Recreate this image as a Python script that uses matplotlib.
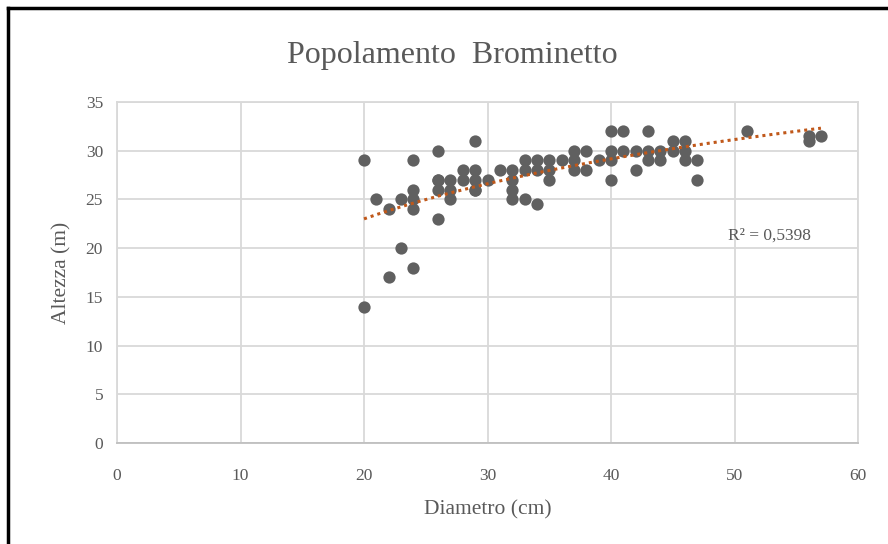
import numpy as np
import matplotlib
matplotlib.use('Agg')
import matplotlib.pyplot as plt
from matplotlib.lines import Line2D

# Diametro (cm) / Altezza (m)
diametro = [20, 20, 21, 22, 22, 23, 23, 24, 24, 24, 24, 24,
            26, 26, 26, 26, 26, 27, 27, 27, 28, 28, 29, 29, 29, 29, 29,
            30, 31, 32, 32, 32, 32, 33, 33, 33, 34, 34, 34,
            35, 35, 35, 36, 37, 37, 37, 38, 38, 39,
            40, 40, 40, 40, 41, 41, 42, 42, 43, 43, 43,
            44, 44, 45, 45, 46, 46, 46, 47, 47, 51, 56, 56, 57]
altezza = [29, 14, 25, 24, 17, 25, 20, 29, 26, 25, 24, 18,
           30, 27, 26, 23, 27, 27, 26, 25, 28, 27, 31, 28, 27, 26, 26,
           27, 28, 28, 27, 26, 25, 29, 28, 25, 29, 28, 24.5,
           29, 28, 27, 29, 30, 29, 28, 30, 28, 29,
           32, 30, 29, 27, 32, 30, 30, 28, 32, 30, 29,
           30, 29, 31, 30, 31, 30, 29, 29, 27, 32, 31, 31.5, 31.5]

title = 'Popolamento  Brominetto'
r2_label = 'R² = 0,5398'

grey_txt = '#595959'
grid_col = '#d9d9d9'
plt.rcParams['font.family'] = ['Liberation Serif', 'DejaVu Serif']

fig = plt.figure(figsize=(8.88, 5.44), dpi=100)
ax = fig.add_axes([117/888, 1-443/544, (858-117)/888, (443-102)/544])

ax.scatter(diametro, altezza, s=78, color='#606060', zorder=3, linewidths=0)

# logarithmic trend line (Excel style)
x = np.array(diametro, dtype=float)
y = np.array(altezza, dtype=float)
a, b = np.polyfit(np.log(x), y, 1)
xt = np.linspace(x.min(), x.max(), 200)
ax.plot(xt, a*np.log(xt) + b, color='#c0581a', lw=2.2, ls=(0, (1, 1.3)), zorder=4)

ax.text(49.5, 21.3, r2_label, fontsize=12.5, color=grey_txt, va='center', ha='left')

ax.set_xlim(0, 60)
ax.set_ylim(0, 35)
ax.set_xticks(range(0, 61, 10))
ax.set_yticks(range(0, 36, 5))
ax.grid(True, color=grid_col, lw=1.3)
ax.set_axisbelow(True)
for side in ['top', 'right', 'left']:
    ax.spines[side].set_color(grid_col)
    ax.spines[side].set_linewidth(1.3)
ax.spines['bottom'].set_color('#bfbfbf')
ax.spines['bottom'].set_linewidth(1.3)
ax.tick_params(length=0, labelsize=12.5, labelcolor=grey_txt)
ax.tick_params(axis='x', pad=18)
ax.tick_params(axis='y', pad=10)

ax.set_xlabel('Diametro (cm)', fontsize=15.5, color=grey_txt, labelpad=12)
ax.set_ylabel('Altezza (m)', fontsize=15.5, color=grey_txt, labelpad=10)
fig.text(452/888, 1-55/544, title, fontsize=23, color=grey_txt, ha='center', va='center')

# black frame from the screenshot (left and top edges)
fig.add_artist(Line2D([7.5/888, 7.5/888], [0, 1-8/544], color='black', lw=2.5))
fig.add_artist(Line2D([7.5/888, 1], [1-8/544, 1-8/544], color='black', lw=2.5))

fig.savefig('out.png', dpi=100)
